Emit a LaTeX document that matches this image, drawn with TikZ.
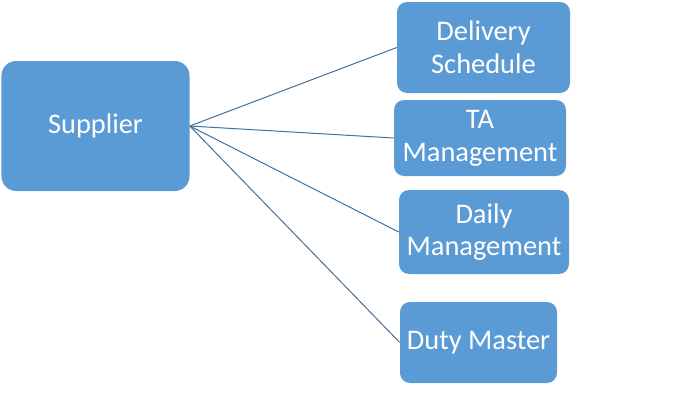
\documentclass[tikz,border=0pt]{standalone}
\usepackage{fontspec}
\setmainfont{Carlito}
\definecolor{boxblue}{HTML}{5B9BD5}
\definecolor{lineblue}{HTML}{41719C}
\begin{document}
\begin{tikzpicture}[x=0.75pt,y=-0.75pt,
  card/.style={fill=boxblue, draw=none, rounded corners=7.5pt, text=white,
    font=\fontsize{21.3}{24.5}\selectfont, align=center, inner sep=0pt},
  link/.style={draw=lineblue, line width=0.75pt}]
\useasboundingbox (0,0) rectangle (687,418);
\node[card, rounded corners=11pt, minimum width=188*0.75pt, minimum height=130*0.75pt] (sup) at (95.5,126) {Supplier};
\node[card, minimum width=173*0.75pt, minimum height=91*0.75pt] (del) at (483.5,47.5) {Delivery\\Schedule};
\node[card, minimum width=172*0.75pt, minimum height=76*0.75pt] (ta) at (480,138) {TA\\Management};
\node[card, minimum width=170*0.75pt, minimum height=84*0.75pt] (day) at (484,232) {Daily\\Management};
\node[card, minimum width=157*0.75pt, minimum height=81*0.75pt] (duty) at (478.5,342.5) {Duty Master};
\draw[link] (sup.east) -- (del.west);
\draw[link] (sup.east) -- (ta.west);
\draw[link] (sup.east) -- (day.west);
\draw[link] (sup.east) -- (duty.west);
\end{tikzpicture}
\end{document}
